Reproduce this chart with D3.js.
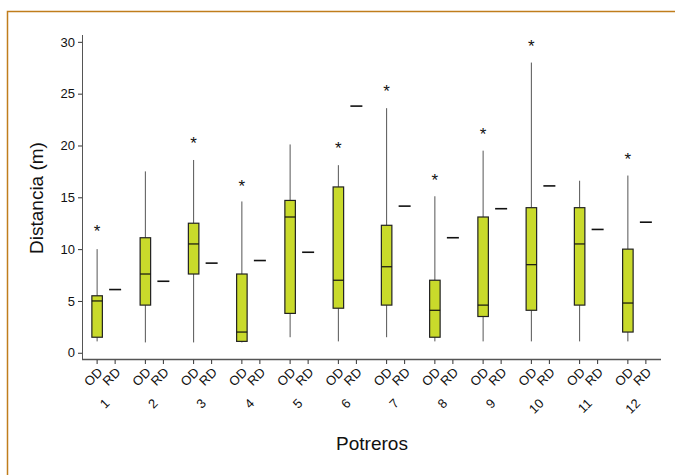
<!DOCTYPE html>
<html>
<head>
<meta charset="utf-8">
<script src="https://cdn.jsdelivr.net/npm/d3@7"></script>
<style>
  body { margin: 0; background: #fff; }
  text { font-family: "Liberation Sans", Arial, sans-serif; fill: #111; }
</style>
</head>
<body>
<div id="chart"></div>
<script>
// potreros (groups) and the two series per group
const potreros = ["1", "2", "3", "4", "5", "6", "7", "8", "9", "10", "11", "12"];
const series = ["OD", "RD"];

// OD box plot values (m)
const odLow    = [1.1, 1.0, 1.0, 1.0, 1.5, 1.1, 1.5, 1.1, 1.1, 1.1, 1.1, 1.1];
const odQ1     = [1.5, 4.6, 7.6, 1.1, 3.8, 4.3, 4.6, 1.5, 3.5, 4.1, 4.6, 2.0];
const odMedian = [5.0, 7.6, 10.5, 2.0, 13.1, 7.0, 8.3, 4.1, 4.6, 8.5, 10.5, 4.8];
const odQ3     = [5.5, 11.1, 12.5, 7.6, 14.7, 16.0, 12.3, 7.0, 13.1, 14.0, 14.0, 10.0];
const odHigh   = [10.0, 17.5, 18.6, 14.6, 20.1, 18.1, 23.6, 15.1, 19.5, 28.0, 16.6, 17.1];
// significance stars above the OD boxes (null = none)
const odStar   = [12.0, null, 20.5, 16.4, null, 20.0, 25.5, 17.0, 21.4, 29.9, null, 19.0];

// RD single values (m)
const rdValue  = [6.1, 6.9, 8.65, 8.9, 9.7, 23.8, 14.15, 11.1, 13.9, 16.1, 11.9, 12.6];

const yTicks = [0, 5, 10, 15, 20, 25, 30];

const W = 675, H = 475;
const svg = d3.select("#chart").append("svg")
    .attr("width", W)
    .attr("height", H);

// frame
svg.append("path")
    .attr("d", "M7.5,475 L7.5,11.5 L675,11.5")
    .attr("fill", "none")
    .attr("stroke", "#c07d1c")
    .attr("stroke-width", 1.5);

const y = d3.scaleLinear().domain([-0.6, 30.66]).range([359, 35]);
const xGroup = d3.scaleBand().domain(potreros).range([82, 661]);
const xSeries = d3.scalePoint().domain(series).range([0, xGroup.bandwidth()]).padding(0.84);
const xPos = (g, s) => xGroup(g) + xSeries(s);

const boxW = 10.5, rdW = 12;

// y axis
const yAxis = svg.append("g")
    .attr("transform", "translate(82,0)")
    .call(d3.axisLeft(y).tickValues(yTicks).tickSize(4).tickPadding(3));
yAxis.select(".domain").attr("stroke", "#555").attr("d", "M0.5," + y.range()[1] + "V" + y.range()[0]);
yAxis.selectAll(".tick line").attr("stroke", "#333");
yAxis.selectAll(".tick text").style("font-size", "13px").attr("fill", "#111");

// x axis
const ticks = potreros.flatMap(g => series.map(s => ({ g, s })));
const xAx = svg.append("g");
xAx.append("line")
    .attr("x1", 82).attr("x2", 661)
    .attr("y1", 359.5).attr("y2", 359.5)
    .attr("stroke", "#555").attr("stroke-width", 1.5);
xAx.selectAll(".xt").data(ticks).enter().append("line")
    .attr("x1", d => xPos(d.g, d.s)).attr("x2", d => xPos(d.g, d.s))
    .attr("y1", 360).attr("y2", 364)
    .attr("stroke", "#333");
xAx.selectAll(".xl").data(ticks).enter().append("text")
    .attr("transform", d => "translate(" + (xPos(d.g, d.s) + 3) + ",370) rotate(-45)")
    .attr("text-anchor", "end")
    .attr("dy", "0.35em")
    .style("font-size", "13px")
    .text(d => d.s);
xAx.selectAll(".gl").data(potreros).enter().append("text")
    .attr("transform", g => "translate(" + (xGroup(g) + xGroup.bandwidth() / 2 + 1) + ",401) rotate(-45)")
    .attr("text-anchor", "end")
    .attr("dy", "0.35em")
    .style("font-size", "13px")
    .text(g => g);

// OD boxes
const box = svg.append("g").selectAll("g")
    .data(potreros.map((g, i) => ({ g, i })))
    .enter().append("g");

box.append("line")
    .attr("x1", d => xPos(d.g, "OD")).attr("x2", d => xPos(d.g, "OD"))
    .attr("y1", d => y(odLow[d.i])).attr("y2", d => y(odQ1[d.i]))
    .attr("stroke", "#555");
box.append("line")
    .attr("x1", d => xPos(d.g, "OD")).attr("x2", d => xPos(d.g, "OD"))
    .attr("y1", d => y(odQ3[d.i])).attr("y2", d => y(odHigh[d.i]))
    .attr("stroke", "#555");
box.append("rect")
    .attr("x", d => xPos(d.g, "OD") - boxW / 2)
    .attr("width", boxW)
    .attr("y", d => y(odQ3[d.i]))
    .attr("height", d => y(odQ1[d.i]) - y(odQ3[d.i]))
    .attr("fill", "#c9da2b")
    .attr("stroke", "#222")
    .attr("stroke-width", 1.2);
box.append("line")
    .attr("x1", d => xPos(d.g, "OD") - boxW / 2).attr("x2", d => xPos(d.g, "OD") + boxW / 2)
    .attr("y1", d => y(odMedian[d.i])).attr("y2", d => y(odMedian[d.i]))
    .attr("stroke", "#111").attr("stroke-width", 1.2);

// stars
box.filter(d => odStar[d.i] !== null).append("text")
    .attr("x", d => xPos(d.g, "OD"))
    .attr("y", d => y(odStar[d.i]) + 9)
    .attr("text-anchor", "middle")
    .style("font-size", "17px")
    .text("*");

// RD values
box.append("line")
    .attr("x1", d => xPos(d.g, "RD") - rdW / 2).attr("x2", d => xPos(d.g, "RD") + rdW / 2)
    .attr("y1", d => y(rdValue[d.i])).attr("y2", d => y(rdValue[d.i]))
    .attr("stroke", "#111").attr("stroke-width", 1.6);

// axis titles
svg.append("text")
    .attr("transform", "translate(43,198) rotate(-90)")
    .attr("text-anchor", "middle")
    .style("font-size", "19px")
    .text("Distancia (m)");
svg.append("text")
    .attr("x", 372).attr("y", 450)
    .attr("text-anchor", "middle")
    .style("font-size", "19px")
    .text("Potreros");
</script>
</body>
</html>
